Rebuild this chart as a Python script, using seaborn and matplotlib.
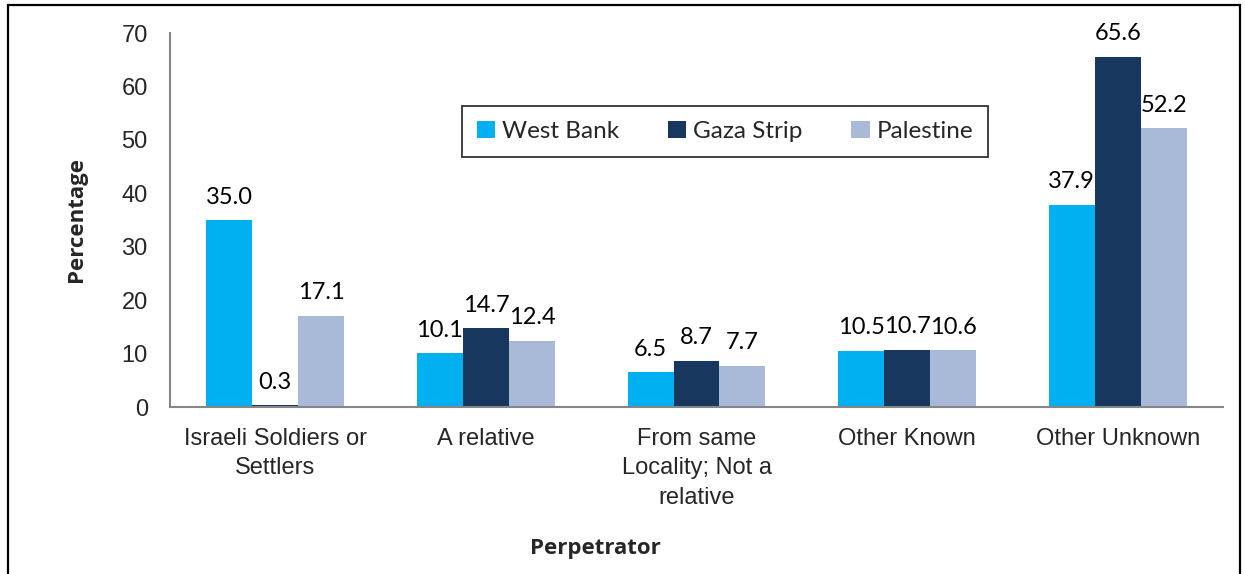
import matplotlib
matplotlib.use("Agg")
import matplotlib.pyplot as plt
import seaborn as sns
import pandas as pd
from matplotlib.patches import Rectangle

categories = ["Israeli Soldiers or\nSettlers", "A relative", "From same\nLocality; Not a\nrelative",
              "Other Known", "Other Unknown"]
series = ["West Bank", "Gaza Strip", "Palestine"]
west_bank = [35.0, 10.1, 6.5, 10.5, 37.9]
gaza_strip = [0.3, 14.7, 8.7, 10.7, 65.6]
palestine = [17.1, 12.4, 7.7, 10.6, 52.2]
colors = ["#00B0F0", "#17375E", "#A9BAD9"]

rows = []
for s, vals in zip(series, [west_bank, gaza_strip, palestine]):
    for c, v in zip(categories, vals):
        rows.append({"Perpetrator": c, "Region": s, "Value": v})
df = pd.DataFrame(rows)

sns.set_style("white")
fig = plt.figure(figsize=(12.45, 5.74), dpi=100)
ax = fig.add_axes([170/1245, 1-407/574, (1223-170)/1245, (407-33)/574])

sns.barplot(data=df, x="Perpetrator", y="Value", hue="Region", order=categories,
            hue_order=series, palette=colors, width=0.655, saturation=1,
            ax=ax, legend=True, linewidth=0, edgecolor="none")

for cont in ax.containers:
    ax.bar_label(cont, fmt="%.1f", padding=9, fontsize=17, family="Lato", color="#000000")

ax.set_ylim(0, 70)
ax.set_yticks(range(0, 71, 10))
ax.set_xlim(-0.5, len(categories) - 0.5)
ax.set_xticks([i - 0.5 for i in range(len(categories) + 1)], minor=False)
ax.set_xticklabels([])
ax.set_xticks(range(len(categories)), minor=True)
ax.set_xticklabels(categories, minor=True, fontsize=17, family="Liberation Sans", linespacing=1.45)
ax.tick_params(axis="x", which="minor", length=0, pad=15)
ax.tick_params(axis="x", which="major", direction="inout", length=13, width=1.3, color="#868686")
ax.tick_params(axis="y", direction="inout", length=16, width=1.3, color="#868686",
               labelsize=17, pad=8)
for lab in ax.get_yticklabels():
    lab.set_family("Liberation Sans")

for side in ["top", "right"]:
    ax.spines[side].set_visible(False)
for side in ["left", "bottom"]:
    ax.spines[side].set_color("#868686")
    ax.spines[side].set_linewidth(1.5)

ax.set_ylabel("Percentage", fontsize=16, fontweight="bold", family="Open Sans")
ax.yaxis.set_label_coords((87-170)/1053, 0.5)
ax.set_xlabel("Perpetrator", fontsize=16, fontweight="bold", family="Open Sans")
ax.xaxis.set_label_coords((595-170)/1053, (407-538)/374)

leg = ax.legend(loc="upper left", bbox_to_anchor=((462-170)/1053, (407-106)/374), ncol=3,
                frameon=True, fancybox=False, edgecolor="black",
                prop={"family": "Lato", "size": 17.5}, handlelength=0.75, handleheight=0.75,
                handletextpad=0.3, columnspacing=2.0, borderpad=0.6, borderaxespad=0)
leg.get_frame().set_linewidth(1.3)
leg.set_title(None)

fig.patches.append(Rectangle((8/1245, -0.02), (1240-8)/1245, 1.02-5/574, transform=fig.transFigure,
                             fill=False, edgecolor="black", linewidth=1.6))

fig.savefig("out.png", dpi=100)
